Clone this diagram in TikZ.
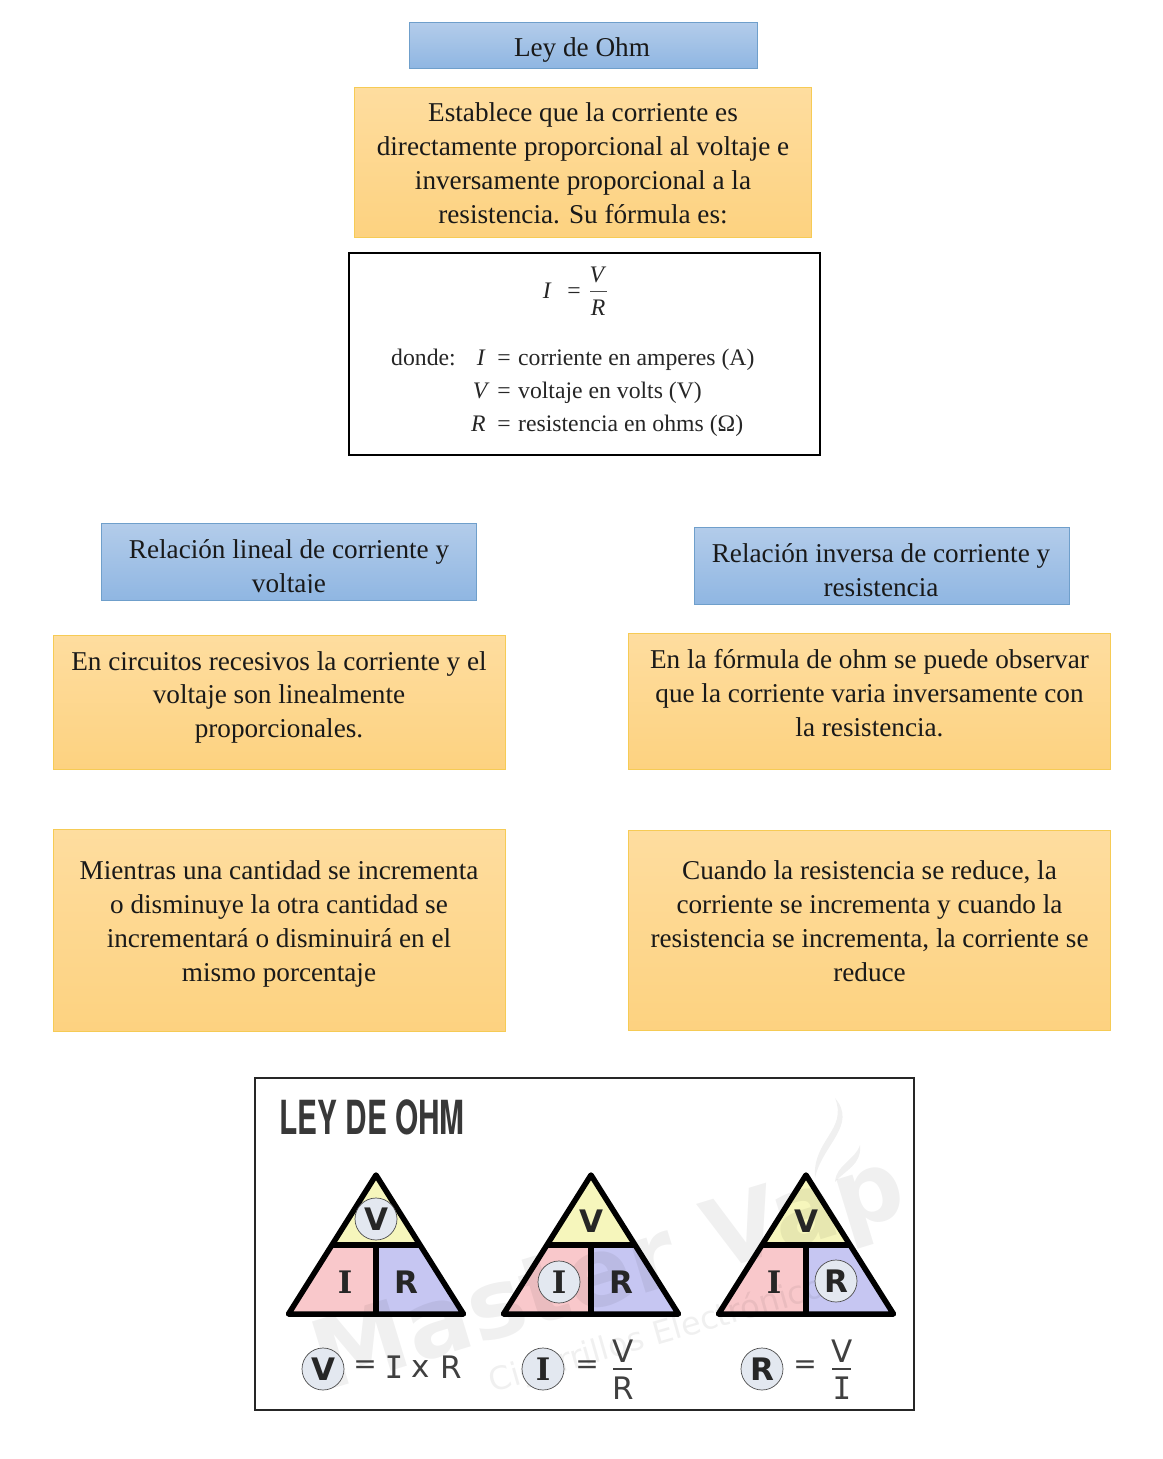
\documentclass[tikz,border=0pt]{standalone}
\usepackage{fontspec}
\setmainfont{Liberation Serif}
\newfontfamily\headfont{TeX Gyre Heros}
\newfontfamily\letterfont{DejaVu Sans}
\newfontfamily\slabfont{DejaVu Serif}
\newfontfamily\monofont{DejaVu Sans Mono}
\usetikzlibrary{positioning}
\definecolor{bluetop}{HTML}{B3CCEA}
\definecolor{bluebot}{HTML}{8FB6E2}
\definecolor{blueline}{HTML}{6F9FCB}
\definecolor{orangetop}{HTML}{FEDD9F}
\definecolor{orangebot}{HTML}{FDD280}
\definecolor{orangeline}{HTML}{F6CB55}
\definecolor{tripale}{HTML}{F6F6BC}
\definecolor{tripink}{HTML}{F9C8CB}
\definecolor{triblue}{HTML}{C6C6F2}
\definecolor{ringfill}{HTML}{E3E8F0}
\newcommand{\boxtext}{\fontsize{27.2}{33.8}\selectfont}
\newcommand{\formtext}{\fontsize{23.7}{33}\selectfont}
\begin{document}
\begin{tikzpicture}[x=1pt, y=-1pt,
    bluebox/.style={rectangle, draw=blueline, line width=0.8pt, top color=bluetop, bottom color=bluebot, inner sep=0pt},
    orangebox/.style={rectangle, draw=orangeline, line width=0.8pt, top color=orangetop, bottom color=orangebot, inner sep=0pt},
    txt/.style={align=center, inner sep=0pt, font=\boxtext, text=black!90},
    form/.style={inner sep=0pt, font=\formtext, text=black!85},
    ring/.style={circle, draw=black!70, line width=0.7pt, fill=ringfill, minimum size=42pt, inner sep=0pt},
    bigletter/.style={inner sep=0pt, font=\fontsize{31}{31}\letterfont\bfseries, text=black!85},
    slabletter/.style={inner sep=0pt, font=\fontsize{31}{31}\slabfont\bfseries, text=black!85},
    thin letter/.style={inner sep=0pt, font=\fontsize{31}{31}\letterfont, text=black!75},
    thin slab/.style={inner sep=0pt, font=\fontsize{31}{31}\monofont, text=black!75},
    ]
    \useasboundingbox (0,0) rectangle (1162,1459);
    % top boxes
    \node[bluebox, minimum width=348pt, minimum height=46pt] (ley) at (583,45.5) {};
    \node[txt] (leytxt) at (582,50) {Ley de Ohm};
    \node[orangebox, minimum width=457pt, minimum height=150pt] (def) at (583,162) {};
    \node[txt, below=16pt of def.north] (deftxt) {Establece que la corriente es\\directamente proporcional al voltaje e\\inversamente proporcional a la\\resistencia. Su fórmula es:};
    % formula box
    \node[draw=black, line width=1.1pt, fill=white, minimum width=471pt, minimum height=202pt, inner sep=0pt] (formbox) at (584.5,354) {};
    \node[form, anchor=east] (ieq) at (581,291) {\textit{I}\,\,\,\,=};
    \node[form] (fv) at (598,275) {\textit{V}};
    \node[form] (fr) at (598,308) {\textit{R}};
    \draw[black!70, line width=0.8pt] (590,291) -- (607,291);
    \node[form, anchor=base west] (donde) at (391,365) {donde:};
    \node[form, anchor=base east] (li) at (511,365) {\textit{I}\,\,\,=};
    \node[form, anchor=base west] (lit) at (518,365) {corriente en amperes (A)};
    \node[form, anchor=base east] (lv) at (511,398) {\textit{V}\,\,=};
    \node[form, anchor=base west] (lvt) at (518,398) {voltaje en volts (V)};
    \node[form, anchor=base east] (lr) at (511,431) {\textit{R}\,\,\,=};
    \node[form, anchor=base west] (lrt) at (518,431) {resistencia en ohms (Ω)};
    % left column
    \node[bluebox, minimum width=375pt, minimum height=77pt] (lineal) at (289,562) {};
    \begin{scope}
        \clip (101,523) rectangle (477,592.5);
        \node[txt, below=16pt of lineal.north] (linealtxt) {Relación lineal de corriente y\\voltaje};
    \end{scope}
    \node[orangebox, minimum width=452pt, minimum height=134pt] (circ) at (279,702.5) {};
    \node[txt, below=16pt of circ.north] (circtxt) {En circuitos recesivos la corriente y el\\voltaje son linealmente\\proporcionales.};
    \node[orangebox, minimum width=452pt, minimum height=202pt] (mien) at (279,930) {};
    \node[txt, below=32pt of mien.north] (mientxt) {Mientras una cantidad se incrementa\\o disminuye la otra cantidad se\\incrementará o disminuirá en el\\mismo porcentaje};
    % right column
    \node[bluebox, minimum width=375pt, minimum height=77pt] (inversa) at (882,566) {};
    \node[txt, below=16pt of inversa.north, xshift=-1pt] (inversatxt) {Relación inversa de corriente y\\resistencia};
    \node[orangebox, minimum width=482pt, minimum height=136pt] (form) at (869.5,701.5) {};
    \node[txt, below=16pt of form.north] (formtxt) {En la fórmula de ohm se puede observar\\que la corriente varia inversamente con\\la resistencia.};
    \node[orangebox, minimum width=482pt, minimum height=200pt] (cuan) at (869.5,930) {};
    \node[txt, below=31pt of cuan.north] (cuantxt) {Cuando la resistencia se reduce, la\\corriente se incrementa y cuando la\\resistencia se incrementa, la corriente se\\reduce};
    % picture at the bottom
    \node[draw=black!85, line width=1.1pt, minimum width=659pt, minimum height=332pt, inner sep=0pt] (frame) at (584.5,1244) {};
    \node[inner sep=0pt, anchor=base west, xscale=0.635, font=\fontsize{47}{47}\headfont\bfseries, text=black!78] (titulo) at (279,1134) {LEY DE OHM};
    \foreach \tx in {376,591,806} {
        \fill[tripale] (\tx,1175) -- (\tx-44,1245) -- (\tx+44,1245) -- cycle;
        \fill[tripink] (\tx-44,1245) -- (\tx-87.5,1314) -- (\tx,1314) -- (\tx,1245) -- cycle;
        \fill[triblue] (\tx+44,1245) -- (\tx+87.5,1314) -- (\tx,1314) -- (\tx,1245) -- cycle;
    }
    % watermark
    \node[rotate=17, inner sep=0pt, opacity=0.06, font=\fontsize{96}{96}\letterfont\bfseries] (marca) at (610,1278) {Master Vap};
    \node[rotate=16, inner sep=0pt, opacity=0.06, font=\fontsize{32}{32}\letterfont] (marcados) at (665,1333) {Cigarrillos Electrónicos};
    \fill[black, opacity=0.06] (835,1098) .. controls (858,1125) and (822,1145) .. (815,1178) .. controls (812,1140) and (848,1130) .. (835,1098) -- cycle;
    \fill[black, opacity=0.06] (860,1145) .. controls (862,1165) and (845,1170) .. (835,1182) .. controls (836,1165) and (855,1160) .. (860,1145) -- cycle;
    \foreach \tx in {376,591,806} {
        \draw[line width=5.5pt, line join=round, line cap=round] (\tx,1175) -- (\tx-87.5,1314) -- (\tx+87.5,1314) -- cycle;
        \draw[line width=5.5pt] (\tx-44,1245) -- (\tx+44,1245);
        \draw[line width=5.5pt] (\tx,1245) -- (\tx,1314);
    }
    % triangle one
    \node[ring] (va) at (376,1219) {};
    \node[bigletter] at (va) {V};
    \node[slabletter] (ia) at (345,1282) {I};
    \node[bigletter] (ra) at (406,1282) {R};
    % triangle two
    \node[bigletter] (vb) at (591,1221) {V};
    \node[ring] (ib) at (559,1282) {};
    \node[slabletter] at (ib) {I};
    \node[bigletter] (rb) at (621,1282) {R};
    % triangle three
    \node[bigletter] (vc) at (806,1221) {V};
    \node[slabletter] (ic) at (774,1282) {I};
    \node[ring] (rc) at (836,1281) {};
    \node[bigletter] at (rc) {R};
    % formulas
    \node[ring] (fa) at (323,1369) {};
    \node[bigletter] at (fa) {V};
    \node[thin letter, font=\fontsize{28}{28}\letterfont] (eqa) at (365,1367) {=};
    \node[thin slab] (xi) at (394,1367) {I};
    \node[thin letter] (xx) at (421,1369) {x};
    \node[thin letter] (xr) at (451,1367) {R};
    \node[ring] (fb) at (543,1369) {};
    \node[slabletter] at (fb) {I};
    \node[thin letter, font=\fontsize{28}{28}\letterfont] (eqb) at (587,1367) {=};
    \node[thin letter] (bv) at (623,1351) {V};
    \node[thin letter] (br) at (623,1388) {R};
    \draw[black!75, line width=1.5pt] (613,1369) -- (632,1369);
    \node[ring] (fc) at (762,1369) {};
    \node[bigletter] at (fc) {R};
    \node[thin letter, font=\fontsize{28}{28}\letterfont] (eqc) at (805,1367) {=};
    \node[thin letter] (cv) at (842,1351) {V};
    \node[thin slab] (ci) at (842,1388) {I};
    \draw[black!75, line width=1.5pt] (832,1369) -- (851,1369);
\end{tikzpicture}
\end{document}
